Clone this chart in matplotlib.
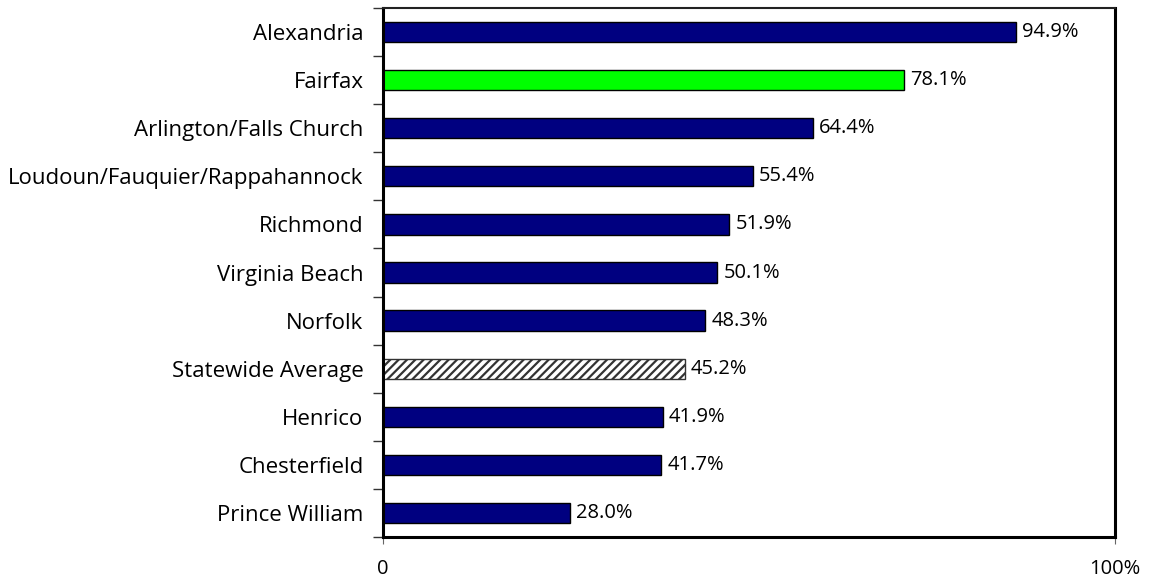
import numpy as np
import matplotlib
matplotlib.use("Agg")
import matplotlib.pyplot as plt

regions = ["Alexandria", "Fairfax", "Arlington/Falls Church",
           "Loudoun/Fauquier/Rappahannock", "Richmond", "Virginia Beach",
           "Norfolk", "Statewide Average", "Henrico", "Chesterfield",
           "Prince William"]
values = [94.9, 78.1, 64.4, 55.4, 51.9, 50.1, 48.3, 45.2, 41.9, 41.7, 28.0]

NAVY = "#000080"
GREEN = "#00FF00"
XMAX = 109.7

plt.rcParams["font.family"] = ["Open Sans", "DejaVu Sans"]
plt.rcParams["hatch.linewidth"] = 1.6

fig = plt.figure(figsize=(11.55, 5.8), dpi=100)
ax = fig.add_axes([383 / 1155, 1 - 537 / 580, (1115 - 383) / 1155, (537 - 8) / 580])

n = len(regions)
y = np.arange(n)[::-1]
for yi, name, v in zip(y, regions, values):
    if name == "Fairfax":
        ax.barh(yi, v, height=0.42, color=GREEN, edgecolor="black", linewidth=1)
    elif name == "Statewide Average":
        ax.barh(yi, v, height=0.42, color="white", edgecolor="#333333",
                hatch="////", linewidth=1)
    else:
        ax.barh(yi, v, height=0.42, color=NAVY, edgecolor="black", linewidth=1)
    ax.text(v + 0.9, yi, f"{v:.1f}%", va="center", ha="left", fontsize=14.5)

ax.set_xlim(0, XMAX)
ax.set_ylim(-0.5, n - 0.5)
ax.set_yticks(y)
ax.set_yticklabels(regions, fontsize=16)
ax.set_yticks(np.arange(-0.5, n, 1.0), minor=True)
ax.tick_params(axis="y", which="major", length=0, pad=14)
ax.tick_params(axis="y", which="minor", length=7, width=1, color="#333333")
ax.set_xticks([0, XMAX])
ax.set_xticklabels(["0", "100%"], fontsize=14.5)
ax.tick_params(axis="x", length=5, width=0.8, color="#666666", pad=11)

for side in ["left", "right", "bottom"]:
    ax.spines[side].set_linewidth(2.2)
    ax.spines[side].set_color("black")
ax.spines["top"].set_linewidth(1.5)
ax.spines["top"].set_color("#222222")

fig.savefig("out.png", dpi=100)
